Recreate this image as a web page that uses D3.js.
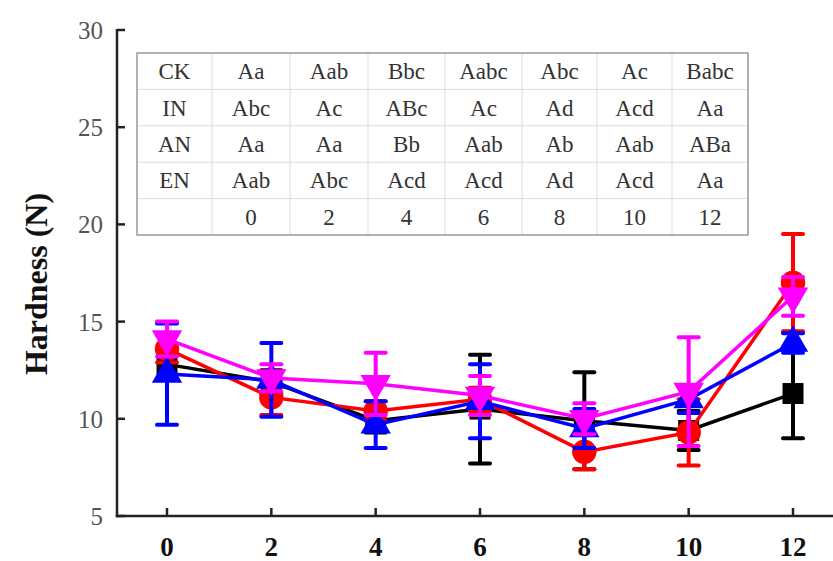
<!DOCTYPE html>
<html>
<head>
<meta charset="utf-8">
<script src="https://cdn.jsdelivr.net/npm/d3@7"></script>
<style>
  html, body { margin: 0; padding: 0; background: #fff; }
  svg { display: block; }
</style>
</head>
<body>
<svg id="chart" width="833" height="561"></svg>
<script>
// Storage days
const days = [0, 2, 4, 6, 8, 10, 12];
const yTicks = [5, 10, 15, 20, 25, 30];

// Mean hardness (N) per treatment
const ckValues = [12.8, 11.9, 9.9, 10.5, 9.9, 9.4, 11.3];
const inValues = [13.6, 11.1, 10.4, 11.0, 8.3, 9.3, 17.0];
const anValues = [12.3, 12.0, 9.7, 10.9, 9.5, 11.0, 13.9];
const enValues = [14.1, 12.1, 11.8, 11.2, 10.0, 11.4, 16.3];

// Standard deviations
const ckErr = [0.8, 0.6, 0.6, 2.8, 2.5, 1.0, 2.3];
const inErr = [0.7, 0.9, 0.5, 0.6, 0.9, 1.7, 2.5];
const anErr = [2.6, 1.9, 1.2, 1.9, 1.0, 0.7, 0.5];
const enErr = [0.9, 0.7, 1.6, 1.0, 0.8, 2.8, 1.0];

// Significance letters table
const tableRows = ["CK", "IN", "AN", "EN"];
const ckLetters = ["Aa", "Aab", "Bbc", "Aabc", "Abc", "Ac", "Babc"];
const inLetters = ["Abc", "Ac", "ABc", "Ac", "Ad", "Acd", "Aa"];
const anLetters = ["Aa", "Aa", "Bb", "Aab", "Ab", "Aab", "ABa"];
const enLetters = ["Aab", "Abc", "Acd", "Acd", "Ad", "Acd", "Aa"];

const series = [
  { name: "CK", values: ckValues, err: ckErr, color: "#000000", shape: "square" },
  { name: "IN", values: inValues, err: inErr, color: "#ff0000", shape: "circle" },
  { name: "AN", values: anValues, err: anErr, color: "#0000ff", shape: "up" },
  { name: "EN", values: enValues, err: enErr, color: "#ff00ff", shape: "down" }
];

const svg = d3.select("#chart");
const serif = "'Liberation Serif', 'Times New Roman', serif";

const x = d3.scaleLinear().domain([0, 12]).range([167, 793]);
const y = d3.scaleLinear().domain([5, 30]).range([516, 30]);
const axisLeft = 117;

// Letters table in the upper part of the plot
const tbl = { left: 137, top: 53, right: 748, bottom: 235 };
const colEdges = [137, 212, 290, 368, 445, 522, 597, 672, 748];
const rowH = (tbl.bottom - tbl.top) / 5;
const tg = svg.append("g");
colEdges.slice(1, -1).forEach(cx => {
  tg.append("line").attr("x1", cx).attr("x2", cx).attr("y1", tbl.top).attr("y2", tbl.bottom)
    .attr("stroke", "#ddd").attr("stroke-width", 1);
});
for (let r = 1; r < 5; r++) {
  tg.append("line").attr("x1", tbl.left).attr("x2", tbl.right)
    .attr("y1", tbl.top + r * rowH).attr("y2", tbl.top + r * rowH)
    .attr("stroke", "#ddd").attr("stroke-width", 1);
}
tg.append("rect").attr("x", tbl.left).attr("y", tbl.top)
  .attr("width", tbl.right - tbl.left).attr("height", tbl.bottom - tbl.top)
  .attr("fill", "none").attr("stroke", "#999").attr("stroke-width", 1.5);

const letterRows = [ckLetters, inLetters, anLetters, enLetters];
const allRows = letterRows.map((lets, i) => [tableRows[i]].concat(lets));
allRows.push([""].concat(days.map(String)));
allRows.forEach((row, r) => {
  row.forEach((txt, c) => {
    tg.append("text")
      .attr("x", (colEdges[c] + colEdges[c + 1]) / 2)
      .attr("y", tbl.top + (r + 0.5) * rowH + 8)
      .attr("text-anchor", "middle")
      .attr("font-family", serif).attr("font-size", 23)
      .attr("fill", "#333")
      .text(txt);
  });
});

// Axes
const ag = svg.append("g").attr("stroke", "#222").attr("stroke-width", 2.5);
ag.append("line").attr("x1", axisLeft).attr("x2", axisLeft).attr("y1", y(30) - 1).attr("y2", y(5) + 1.25);
ag.append("line").attr("x1", axisLeft - 1.25).attr("x2", 833).attr("y1", y(5)).attr("y2", y(5));
yTicks.forEach(t => {
  ag.append("line").attr("x1", axisLeft).attr("x2", axisLeft + 8).attr("y1", y(t)).attr("y2", y(t));
  svg.append("text").attr("x", 103).attr("y", y(t) + 9)
    .attr("text-anchor", "end").attr("font-family", serif).attr("font-size", 25)
    .attr("fill", "#555").text(t);
});
days.forEach(d => {
  ag.append("line").attr("x1", x(d)).attr("x2", x(d)).attr("y1", y(5)).attr("y2", y(5) - 8);
  svg.append("text").attr("x", x(d)).attr("y", 556)
    .attr("text-anchor", "middle").attr("font-family", serif).attr("font-size", 27)
    .attr("font-weight", "bold").attr("fill", "#111").text(d);
});
svg.append("text")
  .attr("transform", `translate(47, 284) rotate(-90)`)
  .attr("text-anchor", "middle").attr("font-family", serif).attr("font-size", 32)
  .attr("font-weight", "bold").attr("fill", "#111").text("Hardness (N)");

// Series: error bars, lines, markers
const symbolFor = {
  square: d3.symbol().type(d3.symbolSquare).size(440),
  circle: d3.symbol().type(d3.symbolCircle).size(470),
  up: d3.symbol().type(d3.symbolTriangle).size(400),
  down: d3.symbol().type(d3.symbolTriangle).size(400)
};

series.forEach(s => {
  const g = svg.append("g");
  const pts = days.map((d, i) => ({ d, v: s.values[i], e: s.err[i] }));
  g.selectAll(".eb").data(pts).join("g").each(function (p) {
    const e = d3.select(this);
    e.append("line").attr("x1", x(p.d)).attr("x2", x(p.d))
      .attr("y1", y(p.v - p.e)).attr("y2", y(p.v + p.e))
      .attr("stroke", s.color).attr("stroke-width", 4);
    [p.v - p.e, p.v + p.e].forEach(v => {
      e.append("line").attr("x1", x(p.d) - 10).attr("x2", x(p.d) + 10)
        .attr("y1", y(v)).attr("y2", y(v))
        .attr("stroke", s.color).attr("stroke-width", 4).attr("stroke-linecap", "round");
    });
  });
  g.append("path").datum(pts)
    .attr("d", d3.line().x(p => x(p.d)).y(p => y(p.v)))
    .attr("fill", "none").attr("stroke", s.color).attr("stroke-width", 3.5);
  g.selectAll(".mk").data(pts).join("path")
    .attr("d", symbolFor[s.shape])
    .attr("transform", p => `translate(${x(p.d)},${y(p.v)})` + (s.shape === "down" ? " rotate(180)" : ""))
    .attr("fill", s.color);
});
</script>
</body>
</html>
